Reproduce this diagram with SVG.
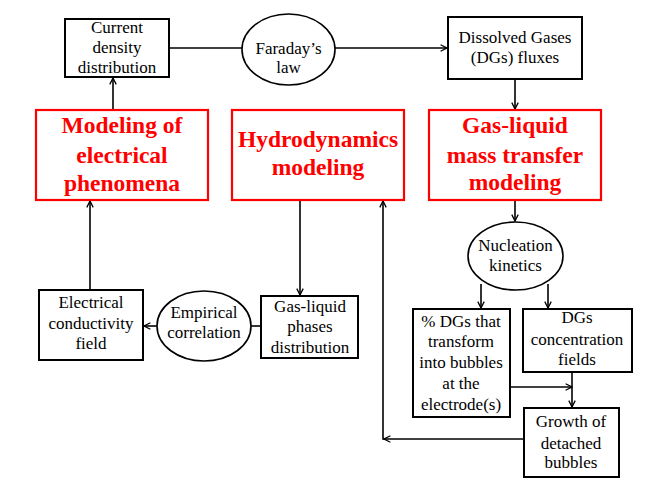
<svg xmlns="http://www.w3.org/2000/svg" width="647" height="492" viewBox="0 0 647 492" font-family="Liberation Serif, DejaVu Serif, serif">
<defs>
<marker id="ah" viewBox="0 0 10 10" refX="9" refY="5" markerWidth="8" markerHeight="8" markerUnits="userSpaceOnUse" orient="auto">
<path d="M1,1 L9,5 L1,9" fill="none" stroke="#000" stroke-width="1.6"/>
</marker>
<style>
.box{fill:#fff;stroke:#000;stroke-width:2}
.rbox{fill:#fff;stroke:#f00;stroke-width:2.2}
.el{fill:#fff;stroke:#000;stroke-width:1.6}
.t{font-size:17px;fill:#000;text-anchor:middle}
.r{font-size:23.5px;font-weight:bold;fill:#f00;text-anchor:middle}
.c{fill:none;stroke:#000;stroke-width:1.6}
</style>
</defs>
<rect width="647" height="492" fill="#fff"/>
<g id="connectors">
<line class="c" x1="169" y1="48" x2="242" y2="48"/>
<line class="c" x1="335" y1="48" x2="447" y2="48" marker-end="url(#ah)"/>
<line class="c" x1="515" y1="79" x2="515" y2="109" marker-end="url(#ah)"/>
<line class="c" x1="113" y1="110" x2="113" y2="78" marker-end="url(#ah)"/>
<line class="c" x1="90" y1="290" x2="90" y2="201" marker-end="url(#ah)"/>
<line class="c" x1="300" y1="200" x2="300" y2="295" marker-end="url(#ah)"/>
<line class="c" x1="261" y1="326" x2="251" y2="326"/>
<line class="c" x1="157" y1="326" x2="144" y2="326" marker-end="url(#ah)"/>
<line class="c" x1="515" y1="200" x2="515" y2="221" marker-end="url(#ah)"/>
<line class="c" x1="481" y1="284" x2="481" y2="308" marker-end="url(#ah)"/>
<line class="c" x1="548" y1="284" x2="548" y2="308" marker-end="url(#ah)"/>
<line class="c" x1="508" y1="387" x2="572" y2="387" marker-end="url(#ah)"/>
<line class="c" x1="572" y1="372" x2="572" y2="407" marker-end="url(#ah)"/>
<line class="c" x1="524" y1="439" x2="384" y2="439" marker-end="url(#ah)"/>
<polyline class="c" points="384,439 383,439 383,201" marker-end="url(#ah)"/>
</g>
<g id="current">
<rect class="box" x="65" y="19" width="104" height="58"/>
<text class="t" x="117" y="33">Current</text>
<text class="t" x="117" y="53">density</text>
<text class="t" x="117" y="73">distribution</text>
</g>
<g id="faraday">
<ellipse class="el" cx="288.5" cy="49.5" rx="46.5" ry="35.5"/>
<text class="t" x="288.5" y="54">Faraday’s</text>
<text class="t" x="288.5" y="73">law</text>
</g>
<g id="dissolved">
<rect class="box" x="448" y="17" width="134" height="62"/>
<text class="t" x="515" y="43">Dissolved Gases</text>
<text class="t" x="515" y="63">(DGs) fluxes</text>
</g>
<g id="electrical">
<rect class="rbox" x="36" y="110" width="172" height="90"/>
<text class="r" x="122" y="133">Modeling of</text>
<text class="r" x="122" y="163">electrical</text>
<text class="r" x="122" y="191">phenomena</text>
</g>
<g id="hydro">
<rect class="rbox" x="232" y="110" width="172" height="90"/>
<text class="r" x="318" y="147">Hydrodynamics</text>
<text class="r" x="318" y="175">modeling</text>
</g>
<g id="masstransfer">
<rect class="rbox" x="429" y="110" width="172" height="90"/>
<text class="r" x="515" y="133">Gas-liquid</text>
<text class="r" x="515" y="163">mass transfer</text>
<text class="r" x="515" y="190">modeling</text>
</g>
<g id="conductivity">
<rect class="box" x="39" y="290" width="104" height="70"/>
<text class="t" x="91" y="308">Electrical</text>
<text class="t" x="91" y="329">conductivity</text>
<text class="t" x="91" y="349">field</text>
</g>
<g id="empirical">
<ellipse class="el" cx="204" cy="326" rx="47" ry="35"/>
<text class="t" x="204" y="318">Empirical</text>
<text class="t" x="204" y="338">correlation</text>
</g>
<g id="phases">
<rect class="box" x="261" y="296" width="97" height="62"/>
<text class="t" x="310" y="312">Gas-liquid</text>
<text class="t" x="310" y="332">phases</text>
<text class="t" x="310" y="353">distribution</text>
</g>
<g id="nucleation">
<ellipse class="el" cx="515.5" cy="256" rx="47.5" ry="34"/>
<text class="t" x="515.5" y="251">Nucleation</text>
<text class="t" x="515.5" y="271">kinetics</text>
</g>
<g id="percent">
<rect class="box" x="413" y="309" width="97" height="108"/>
<text class="t" x="461" y="327">% DGs that</text>
<text class="t" x="461" y="347">transform</text>
<text class="t" x="461" y="368">into bubbles</text>
<text class="t" x="461" y="389">at the</text>
<text class="t" x="461" y="410">electrode(s)</text>
</g>
<g id="concentration">
<rect class="box" x="523" y="309" width="109" height="63"/>
<text class="t" x="577" y="323">DGs</text>
<text class="t" x="577" y="345">concentration</text>
<text class="t" x="577" y="365">fields</text>
</g>
<g id="growth">
<rect class="box" x="524" y="408" width="95" height="69"/>
<text class="t" x="571" y="427">Growth of</text>
<text class="t" x="571" y="449">detached</text>
<text class="t" x="571" y="468">bubbles</text>
</g>
</svg>
